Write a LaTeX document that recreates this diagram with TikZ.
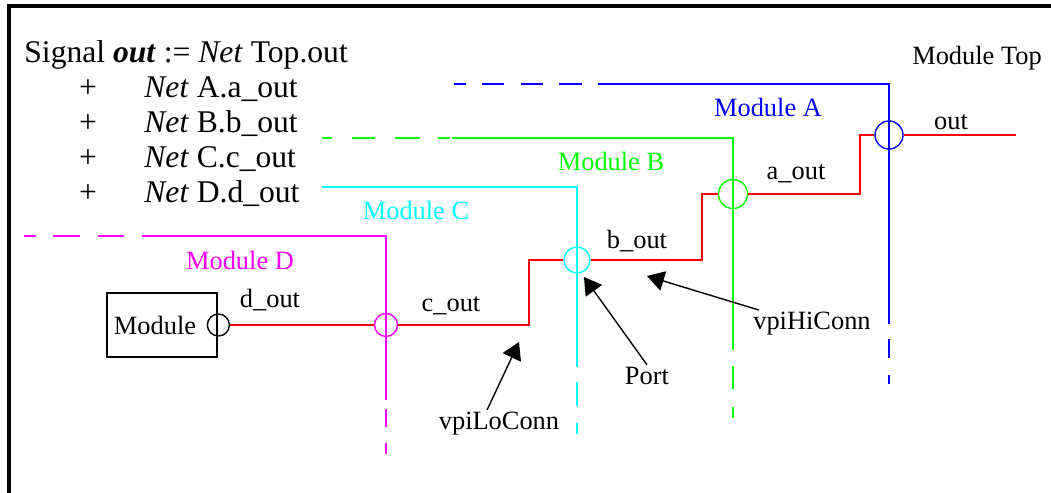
\documentclass[tikz,border=0pt]{standalone}
\usepackage{fontspec}
\setmainfont{Liberation Serif}
\usetikzlibrary{arrows.meta}
\definecolor{modA}{rgb}{0.0, 0.0, 1.0}
\definecolor{modB}{rgb}{0.0, 1.0, 0.0}
\definecolor{modC}{rgb}{0.0, 1.0, 1.0}
\definecolor{modD}{rgb}{1.0, 0.0, 1.0}
\definecolor{netRed}{rgb}{1.0, 0.0, 0.0}

\begin{document}
\begin{tikzpicture}[x=0.5pt, y=-0.5pt,
			bigText/.style={font=\fontsize{15.8}{19}\selectfont, inner sep=0pt},
			lblText/.style={font=\fontsize{13.2}{16}\selectfont, inner sep=1pt},
			modLine/.style={line width=1.3pt},
			wireStyle/.style={line width=1.3pt, color=netRed},
			portStyle/.style={circle, draw, line width=0.7pt, inner sep=0pt},
			arrowStyle/.style={-{Triangle[length=8.5pt, width=10pt]}, line width=0.7pt},]
			
			\useasboundingbox (0,0) rectangle (1051,493);
			\draw[line width=1.6pt] (9,493) -- (9,6) -- (1051,6);
			
			% signal text
			\node[bigText, anchor=base west] (sig) at (24,62) {Signal \textbf{\textit{out}} := \textit{Net} Top.out};
			\foreach \m/\n [count=\k] in {A/a, B/b, C/c, D/d} {
				\node[bigText, anchor=base] (plus\k) at (88,62+35*\k) {+};
				\node[bigText, anchor=base west] (net\k) at (144,62+35*\k) {\textit{Net} \m.\n\_out};
			}
			
			% module borders
			\draw[modLine, modA] (598,84) -- (889,84) -- (889,324);
			\foreach \a/\b in {454/466, 482/504, 521/543, 559/582}
			\draw[modLine, modA] (\a,84) -- (\b,84);
			\foreach \a/\b in {339/358, 375/384}
			\draw[modLine, modA] (889,\a) -- (889,\b);
			
			\draw[modLine, modB] (452,138) -- (733,138) -- (733,350);
			\foreach \a/\b in {322/332, 352/375, 395/420, 438/450}
			\draw[modLine, modB] (\a,138) -- (\b,138);
			\foreach \a/\b in {366/389, 407/418}
			\draw[modLine, modB] (733,\a) -- (733,\b);
			
			\draw[modLine, modC] (322,187) -- (577,187) -- (577,367);
			\foreach \a/\b in {382/406, 423/434}
			\draw[modLine, modC] (577,\a) -- (577,\b);
			
			\draw[modLine, modD] (142,236) -- (386,236) -- (386,400);
			\foreach \a/\b in {24/36, 53/80, 98/124}
			\draw[modLine, modD] (\a,236) -- (\b,236);
			\foreach \a/\b in {409/427, 443/454}
			\draw[modLine, modD] (386,\a) -- (386,\b);
			
			\node[lblText] (labTop) at (977,58) {Module Top};
			\node[lblText, modA] (labA) at (768,107) {Module A};
			\node[lblText, modB] (labB) at (611,161) {Module B};
			\node[lblText, modC] (labC) at (416,210) {Module C};
			\node[lblText, modD] (labD) at (240,260) {Module D};
			
			% ports
			\node[portStyle, modA, minimum size=14pt] (portA) at (889,135) {};
			\node[portStyle, modB, minimum size=14.5pt] (portB) at (733,194) {};
			\node[portStyle, modC, minimum size=13pt] (portC) at (577,260) {};
			\node[portStyle, modD, minimum size=11.5pt] (portD) at (386,325) {};
			
			\node[draw, line width=1.4pt, minimum width=55pt, minimum height=32pt, inner sep=0pt,
			font=\fontsize{13.2}{16}\selectfont] (modBox) at (162,325) {Module\kern7pt};
			\node[portStyle, minimum size=11pt] (modPort) at (modBox.east) {};
			
			% net wires
			\coordinate (stepC) at (529,260);
			\coordinate (stepB) at (702,194);
			\coordinate (stepA) at (860,135);
			\coordinate (outEnd) at (1016,135);
			\draw[wireStyle] (modPort.east) -- (portD.west);
			\draw[wireStyle] (portD.east) -| (stepC) -- (portC.west);
			\draw[wireStyle] (portC.east) -| (stepB) -- (portB.west);
			\draw[wireStyle] (portB.east) -| (stepA) -- (portA.west);
			\draw[wireStyle] (portA.east) -- (outEnd);
			
			\node[lblText] (dOut) at (270,300) {d\_out};
			\node[lblText] (cOut) at (451,306) {c\_out};
			\node[lblText] (bOut) at (637,241) {b\_out};
			\node[lblText] (aOut) at (796,174) {a\_out};
			\node[lblText] (topOut) at (951,122) {out};
			
			% pointers
			\node[lblText] (portLbl) at (647,376) {Port};
			\node[lblText] (hiLbl) at (812,324) {vpiHiConn};
			\node[lblText] (loLbl) at (499,424) {vpiLoConn};
			\coordinate (tipPort) at (584,277);
			\coordinate (tipHi) at (647,276);
			\coordinate (tipLo) at (519,342);
			\draw[arrowStyle] (portLbl.north) -- (tipPort);
			\draw[arrowStyle] ([xshift=4pt]hiLbl.north west) -- (tipHi);
			\draw[arrowStyle] ([xshift=-6pt]loLbl.north) -- (tipLo);
		\end{tikzpicture}
\end{document}
